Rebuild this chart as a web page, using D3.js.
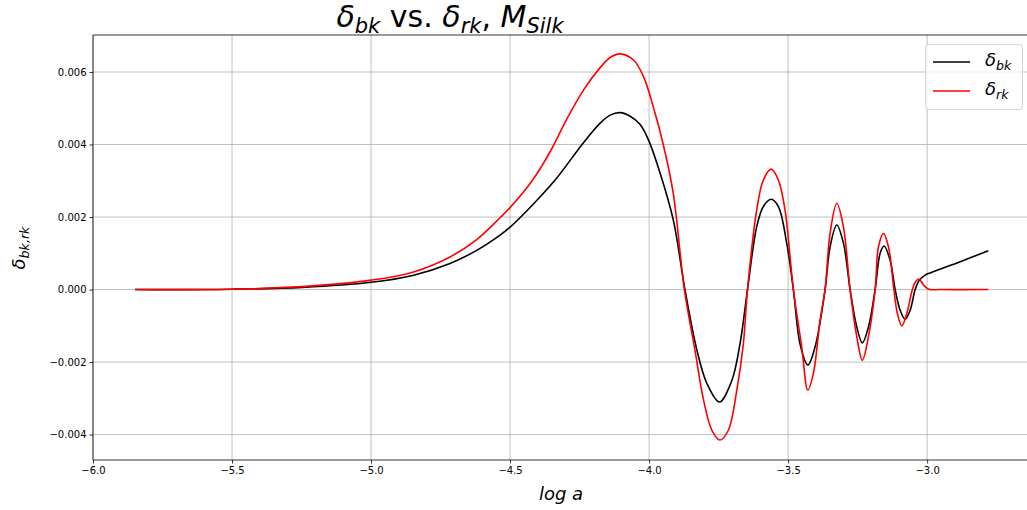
<!DOCTYPE html>
<html>
<head>
<meta charset="utf-8">
<script src="https://cdn.jsdelivr.net/npm/d3@7"></script>
<style>
  html, body { margin: 0; padding: 0; background: #fff; }
  svg { display: block; font-family: "DejaVu Sans", sans-serif; }
</style>
</head>
<body>
<svg id="chart" width="1027" height="510"></svg>
<script>
// delta_bk: baryon density contrast vs log a
const bkLogA = [-5.849, -5.5, -5.248, -5.0, -4.85, -4.716, -4.62, -4.536, -4.5, -4.416, -4.338, -4.236, -4.176, -4.140, -4.104,
  -4.068, -4.032, -4.002, -3.960, -3.913, -3.871, -3.828, -3.792, -3.747, -3.703, -3.673, -3.646, -3.613, -3.589,
  -3.561, -3.535, -3.505, -3.481, -3.457, -3.429, -3.403, -3.367, -3.349, -3.325, -3.301, -3.277, -3.253,
  -3.233, -3.211, -3.187, -3.169, -3.155, -3.133, -3.115, -3.097, -3.079, -3.061, -3.043, -3.028, -3.007,
  -2.989, -2.881, -2.780];
const bkValues = [0, 0.00001, 0.00006, 0.0002, 0.00039, 0.00072, 0.00108, 0.0015, 0.00172, 0.00236, 0.00302, 0.00405, 0.00459, 0.00481, 0.00488,
  0.00478, 0.00455, 0.00412, 0.0032, 0.00192, 0.0, -0.00167, -0.00259, -0.0031, -0.00252, -0.0015, 0.0, 0.00173, 0.00229,
  0.00249, 0.00229, 0.00128, 0.0, -0.0015, -0.00208, -0.00158, 0.0, 0.00118, 0.00178, 0.00128, 0.0, -0.00103,
  -0.00147, -0.00103, 0.0, 0.001, 0.0012, 0.00081, 0.0, -0.00057, -0.00082, -0.00057, 0.0, 0.00026, 0.0004,
  0.00046, 0.00077, 0.00107];

// delta_rk: radiation density contrast vs log a
const rkLogA = [-5.849, -5.5, -5.248, -5.0, -4.85, -4.716, -4.62, -4.536, -4.5, -4.416, -4.356, -4.296, -4.236, -4.176, -4.140, -4.104,
  -4.056, -4.020, -3.985, -3.949, -3.913, -3.873, -3.835, -3.804, -3.774, -3.745, -3.715, -3.685, -3.661,
  -3.646, -3.613, -3.589, -3.561, -3.535, -3.511, -3.481, -3.451, -3.429, -3.409, -3.385, -3.367, -3.349,
  -3.325, -3.301, -3.277, -3.253, -3.233, -3.211, -3.187, -3.175, -3.157, -3.139, -3.121, -3.107, -3.091,
  -3.073, -3.053, -3.041, -3.030, -3.012, -2.994, -2.953, -2.780];
const rkValues = [0, 0.00001, 0.00008, 0.00026, 0.00048, 0.0009, 0.00138, 0.00198, 0.00226, 0.00305, 0.0038, 0.0047, 0.0055, 0.00612, 0.0064, 0.0065,
  0.00633, 0.00587, 0.00504, 0.004, 0.00265, 0.0, -0.00167, -0.00305, -0.00388, -0.00415, -0.00388, -0.0028, -0.0015,
  0.0, 0.00219, 0.00302, 0.00332, 0.00302, 0.00219, 0.0, -0.00158, -0.00277, -0.00231, -0.00084, 0.0, 0.00155,
  0.00238, 0.00173, 0.0, -0.0013, -0.00195, -0.0013, 0.0, 0.00118, 0.00155, 0.00118, 0.0001, -0.00066, -0.001,
  -0.00066, 0.0, 0.00022, 0.00029, 0.00012, 0.00001, 0.0, 0.0];

const xTicks = [-6.0, -5.5, -5.0, -4.5, -4.0, -3.5, -3.0];
const yTicks = [-0.004, -0.002, 0.0, 0.002, 0.004, 0.006];

const svg = d3.select("#chart");
const mLeft = 93, mTop = 35, mBottom = 460, mRight = 1030;

const x = d3.scaleLinear().domain([-6.0, -2.63]).range([mLeft, mRight]);
const y = d3.scaleLinear().domain([-0.0047, 0.00702]).range([mBottom, mTop]);

const minus = s => s.replace("-", "\u2212");

svg.append("defs").append("clipPath").attr("id", "plot")
  .append("rect").attr("x", mLeft).attr("y", mTop).attr("width", mRight - mLeft).attr("height", mBottom - mTop);

// grid
const grid = svg.append("g").attr("stroke", "#b0b0b0").attr("stroke-width", 0.8);
xTicks.forEach(t => grid.append("line").attr("x1", x(t)).attr("x2", x(t)).attr("y1", mTop).attr("y2", mBottom));
yTicks.forEach(t => grid.append("line").attr("x1", mLeft).attr("x2", mRight).attr("y1", y(t)).attr("y2", y(t)));

// curves
const line = d3.line().x(d => x(d[0])).y(d => y(d[1])).curve(d3.curveCatmullRom.alpha(0.5));
const plot = svg.append("g").attr("clip-path", "url(#plot)");
plot.append("path").datum(bkLogA.map((a, i) => [a, bkValues[i]]))
  .attr("d", line).attr("fill", "none").attr("stroke", "#000").attr("stroke-width", 1.6);
plot.append("path").datum(rkLogA.map((a, i) => [a, rkValues[i]]))
  .attr("d", line).attr("fill", "none").attr("stroke", "#ff0000").attr("stroke-width", 1.6);

// axes
const xAxis = d3.axisBottom(x).tickValues(xTicks).tickSize(3.5).tickPadding(3)
  .tickFormat(d => minus(d3.format(".1f")(d)));
const yAxis = d3.axisLeft(y).tickValues(yTicks).tickSize(3.5).tickPadding(3)
  .tickFormat(d => minus(d3.format(".3f")(d)));

const gx = svg.append("g").attr("transform", `translate(0,${mBottom})`).call(xAxis);
const gy = svg.append("g").attr("transform", `translate(${mLeft},0)`).call(yAxis);
[gx, gy].forEach(g => {
  g.selectAll("text").attr("font-family", "DejaVu Sans").attr("font-size", 10).attr("fill", "#000");
  g.selectAll("line").attr("stroke", "#000").attr("stroke-width", 0.8);
  g.select(".domain").remove();
});

// spines
const spines = svg.append("g").attr("stroke", "#000").attr("stroke-width", 0.8).attr("fill", "none");
spines.append("line").attr("x1", mLeft).attr("x2", mLeft).attr("y1", mTop).attr("y2", mBottom);
spines.append("line").attr("x1", mLeft).attr("x2", mRight).attr("y1", mTop).attr("y2", mTop);
spines.append("line").attr("x1", mLeft).attr("x2", mRight).attr("y1", mBottom).attr("y2", mBottom);

// mathtext-like label helper: parts = [[text, italic, sub]]
function mathText(sel, parts, size) {
  parts.forEach(([t, it, sub], i) => {
    const prevSub = i > 0 && parts[i - 1][2];
    const ts = sel.append("tspan").text(t)
      .attr("font-style", it ? "italic" : "normal")
      .attr("font-size", sub ? size * 0.7 : size);
    const dy = (sub && !prevSub) ? size * 0.2 : (!sub && prevSub) ? -size * 0.2 : 0;
    if (dy) ts.attr("dy", dy);
  });
}

// title
const title = svg.append("text").attr("x", 450).attr("y", 27).attr("text-anchor", "middle")
  .attr("font-family", "DejaVu Sans").attr("fill", "#000");
mathText(title, [["δ", true, false], ["bk", true, true], [" vs. ", false, false], ["δ", true, false],
  ["rk", true, true], [", ", false, false], ["M", true, false], ["Silk", true, true]], 30);

// axis labels
svg.append("text").attr("x", 561).attr("y", 500).attr("text-anchor", "middle")
  .attr("font-family", "DejaVu Sans").attr("font-size", 18).attr("font-style", "italic").text("log a");
const yl = svg.append("text").attr("transform", "translate(25,248) rotate(-90)").attr("text-anchor", "middle")
  .attr("font-family", "DejaVu Sans");
mathText(yl, [["δ", true, false], ["bk,rk", true, true]], 18);

// legend
const lg = svg.append("g");
lg.append("rect").attr("x", 925.5).attr("y", 44.5).attr("width", 97).attr("height", 65).attr("rx", 3)
  .attr("fill", "#fff").attr("fill-opacity", 0.8).attr("stroke", "#cccccc").attr("stroke-width", 0.8);
const entries = [["bk", "#000", 62], ["rk", "#ff0000", 91]];
entries.forEach(([s, c, yy]) => {
  lg.append("line").attr("x1", 933).attr("x2", 970).attr("y1", yy).attr("y2", yy)
    .attr("stroke", c).attr("stroke-width", 1.6);
  const t = lg.append("text").attr("x", 985).attr("y", yy + 4).attr("font-family", "DejaVu Sans");
  mathText(t, [["δ", true, false], [s, true, true]], 18);
});
</script>
</body>
</html>
